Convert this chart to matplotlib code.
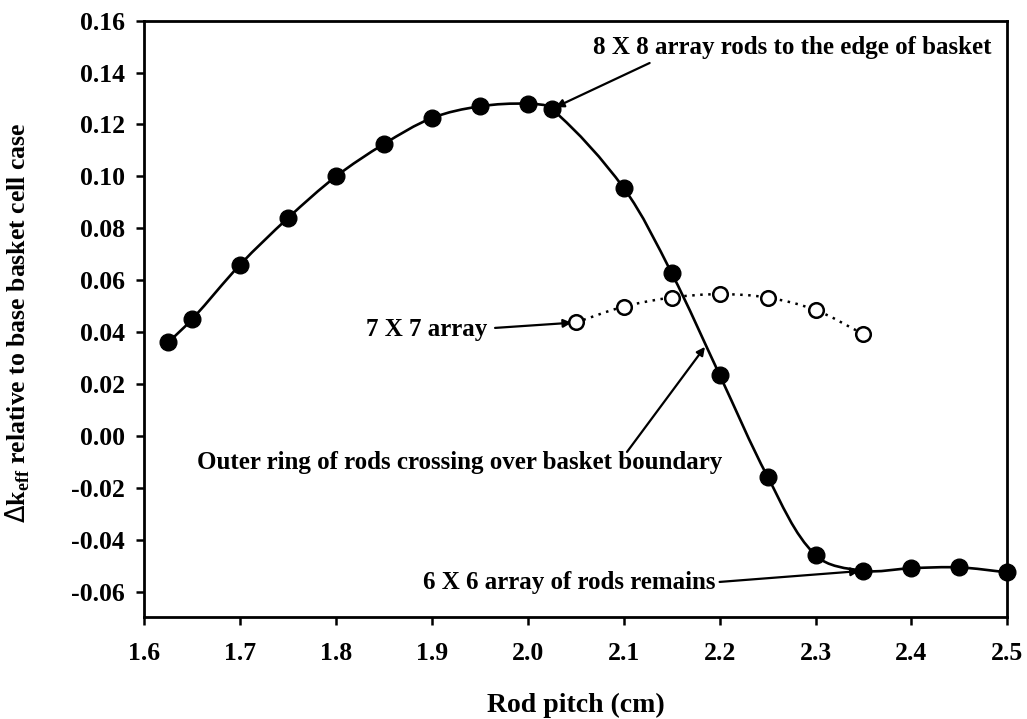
import numpy as np
import matplotlib
matplotlib.use("Agg")
import matplotlib.pyplot as plt
from matplotlib.path import Path
from matplotlib.patches import PathPatch

# ---- data ----
x8 = [1.625, 1.65, 1.70, 1.75, 1.80, 1.85, 1.90, 1.95, 2.00, 2.025,
      2.10, 2.15, 2.20, 2.25, 2.30, 2.35, 2.40, 2.45, 2.50]
y8 = [0.036, 0.045, 0.066, 0.084, 0.100, 0.1125, 0.1225, 0.127, 0.128, 0.126,
      0.0955, 0.0627, 0.0235, -0.0157, -0.046, -0.052, -0.051, -0.0507, -0.0526]
x7 = [2.05, 2.10, 2.15, 2.20, 2.25, 2.30, 2.35]
y7 = [0.0437, 0.0498, 0.0533, 0.0546, 0.0533, 0.0485, 0.0392]

xticks = [1.6, 1.7, 1.8, 1.9, 2.0, 2.1, 2.2, 2.3, 2.4, 2.5]
yticks = [-0.06, -0.04, -0.02, 0.00, 0.02, 0.04, 0.06, 0.08, 0.10, 0.12, 0.14, 0.16]

plt.rcParams['font.family'] = ['Liberation Serif', 'DejaVu Serif']

XS, YS = 959.0, 2595.0  # approx pixel scale per data unit, for curve tangents


def smooth_path(xs, ys):
    """Smoothed line through the points as cubic Bezier segments."""
    pts = np.column_stack([np.asarray(xs) * XS, np.asarray(ys) * YS])
    n = len(pts)
    tang = []
    for i in range(n):
        a = pts[max(i - 1, 0)]
        b = pts[min(i + 1, n - 1)]
        d = b - a
        tang.append(d / np.hypot(*d))
    verts = [pts[0]]
    codes = [Path.MOVETO]
    for i in range(n - 1):
        p1, p2 = pts[i], pts[i + 1]
        L = np.hypot(*(p2 - p1))
        c1 = p1 + tang[i] * L / 3.0
        c2 = p2 - tang[i + 1] * L / 3.0
        verts += [c1, c2, p2]
        codes += [Path.CURVE4] * 3
    verts = np.array(verts) / np.array([XS, YS])
    return Path(verts, codes)


fig = plt.figure(figsize=(10.27, 7.19), dpi=100)
ax = fig.add_axes([0.1405, 0.1412, 0.8403, 0.8300])

ax.add_patch(PathPatch(smooth_path(x8, y8), fill=False, lw=1.9, color='k', zorder=2))
ax.add_patch(PathPatch(smooth_path(x7, y7), fill=False, lw=1.8, color='k',
                       linestyle=(0, (1, 2.2)), zorder=2))
ax.plot(x8, y8, 'o', ms=12, color='k', zorder=4, clip_on=False)
ax.plot(x7, y7, 'o', ms=10.5, mfc='white', mec='k', mew=1.8, zorder=4, clip_on=False)

ax.set_xlim(1.6, 2.5)
ax.set_ylim(-0.07, 0.16)
ax.set_xticks(xticks)
ax.set_yticks(yticks)
ax.set_xticklabels([f"{v:.1f}" for v in xticks])
ax.set_yticklabels([f"{v:.2f}" for v in yticks])

for s in ax.spines.values():
    s.set_linewidth(2.0)
ax.tick_params(direction='out', length=6, width=1.8, labelsize=18.5, pad=8)
for lab in ax.get_xticklabels() + ax.get_yticklabels():
    lab.set_fontweight('bold')
ax.tick_params(axis='x', pad=12)

ax.set_xlabel('Rod pitch (cm)', fontsize=20, fontweight='bold', labelpad=20)
ax.set_ylabel(r'$\Delta$k$_{\mathregular{eff}}$ relative to base basket cell case',
              fontsize=18.5, fontweight='bold')
ax.yaxis.set_label_coords(-0.130, 0.493)

tfont = dict(fontsize=18, fontweight='bold', color='k')
aprops = dict(arrowstyle='-|>', lw=1.6, color='k', mutation_scale=12,
              shrinkA=0, shrinkB=3)

ax.text(2.2754, 0.1495, '8 X 8 array rods to the edge of basket', ha='center', va='center', **tfont)
ax.annotate('', xy=(2.025, 0.126), xytext=(2.127, 0.1437), arrowprops=aprops)

ax.text(1.9576, 0.0408, '7 X 7 array', ha='right', va='center', **tfont)
ax.annotate('', xy=(2.05, 0.0437), xytext=(1.9658, 0.0416), arrowprops=aprops)

ax.text(2.2024, -0.0104, 'Outer ring of rods crossing over basket boundary', ha='right', va='center', **tfont)
ax.annotate('', xy=(2.1847, 0.0343), xytext=(2.1034, -0.0062),
            arrowprops=dict(aprops, shrinkB=0))

ax.text(2.196, -0.0567, '6 X 6 array of rods remains', ha='right', va='center', **tfont)
ax.annotate('', xy=(2.35, -0.052), xytext=(2.2, -0.0563), arrowprops=aprops)

fig.savefig('out.png', dpi=100)
